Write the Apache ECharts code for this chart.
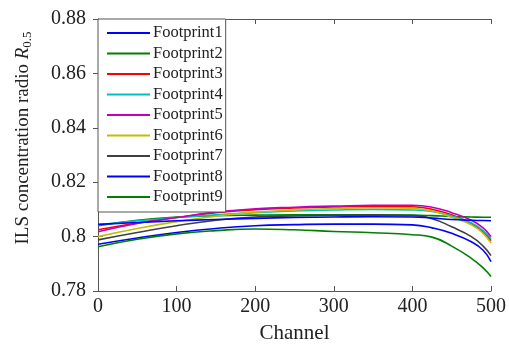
<!DOCTYPE html>
<html><head><meta charset="utf-8">
<script src="https://cdn.jsdelivr.net/npm/echarts@6/dist/echarts.min.js"></script>
<style>html,body{margin:0;padding:0;background:#fff}#c{width:509px;height:354px}</style>
</head><body><div id="c"></div>
<script>
const channels = [0, 50, 100, 150, 200, 250, 300, 350, 400, 425, 450, 475, 490, 500];
const seriesNames = ['Footprint1','Footprint2','Footprint3','Footprint4','Footprint5','Footprint6','Footprint7','Footprint8','Footprint9'];
const footprint1 = [0.7972,0.7995,0.8015,0.8030,0.8040,0.8044,0.8046,0.8046,0.8043,0.8032,0.8012,0.7981,0.7950,0.7908];
const footprint2 = [0.8040,0.8060,0.8072,0.8077,0.8079,0.8080,0.8080,0.8080,0.8079,0.8077,0.8074,0.8072,0.8071,0.8071];
const footprint3 = [0.8025,0.8050,0.8070,0.8088,0.8099,0.8105,0.8109,0.8111,0.8110,0.8100,0.8080,0.8048,0.8018,0.7985];
const footprint4 = [0.8043,0.8058,0.8070,0.8080,0.8088,0.8094,0.8098,0.8100,0.8098,0.8092,0.8076,0.8050,0.8022,0.7992];
const footprint5 = [0.8018,0.8048,0.8070,0.8090,0.8102,0.8108,0.8112,0.8115,0.8115,0.8108,0.8088,0.8060,0.8032,0.8000];
const footprint6 = [0.8000,0.8030,0.8055,0.8075,0.8090,0.8098,0.8103,0.8106,0.8104,0.8094,0.8071,0.8043,0.8012,0.7976];
const footprint7 = [0.7988,0.8015,0.8040,0.8060,0.8072,0.8076,0.8078,0.8079,0.8077,0.8066,0.8036,0.8000,0.7965,0.7930];
const footprint8 = [0.8045,0.8052,0.8058,0.8063,0.8067,0.8070,0.8072,0.8073,0.8072,0.8068,0.8063,0.8060,0.8059,0.8058];
const footprint9 = [0.7963,0.7990,0.8010,0.8022,0.8028,0.8025,0.8019,0.8014,0.8007,0.7998,0.7965,0.7920,0.7885,0.7853];
const allValues = [footprint1,footprint2,footprint3,footprint4,footprint5,footprint6,footprint7,footprint8,footprint9];
const colors = ['#0000ff','#008000','#ff0000','#00bfbf','#bf00bf','#bfbf00','#404040','#0000ff','#008000'];
const xTicks = {min: 0, max: 500, interval: 100};
const yTicks = {min: 0.78, max: 0.88, interval: 0.02};

const font = 'Liberation Serif, Times New Roman, serif';
const axisColor = '#555';
const textColor = '#222';

const series = seriesNames.map((n, i) => ({
  name: n, type: 'line', smooth: true, showSymbol: false, symbol: 'none',
  lineStyle: {color: colors[i], width: 1.6}, itemStyle: {color: colors[i]},
  data: channels.map((c, j) => [c, allValues[i][j]]), z: 2
}));

const chart = echarts.init(document.getElementById('c'));
chart.setOption({
  animation: false,
  backgroundColor: '#fff',
  grid: {left: 98, right: 15, top: 19, bottom: 63, show: false},
  legend: {
    orient: 'vertical', left: 98, top: 19,
    data: seriesNames.map(n => ({name: n, icon: 'rect'})),
    itemWidth: 43, itemHeight: 2, itemGap: 2.5,
    padding: [5, 3, 6, 9],
    backgroundColor: '#fff', borderColor: axisColor, borderWidth: 1,
    textStyle: {fontFamily: font, fontSize: 16.5, color: textColor, lineHeight: 18, padding: [0, 0, 0, -2]},
    z: 10
  },
  xAxis: [{
    type: 'value', min: xTicks.min, max: xTicks.max, interval: xTicks.interval,
    name: 'Channel', nameLocation: 'middle', nameGap: 32,
    nameTextStyle: {fontFamily: font, fontSize: 21, color: textColor},
    axisLine: {show: true, lineStyle: {color: axisColor, width: 1}},
    axisTick: {show: true, inside: true, length: 5, lineStyle: {color: axisColor}},
    axisLabel: {fontFamily: font, fontSize: 20, color: textColor, margin: 6},
    splitLine: {show: false}
  }, {
    type: 'value', position: 'top', min: xTicks.min, max: xTicks.max, interval: xTicks.interval,
    axisLine: {show: true, lineStyle: {color: axisColor, width: 1}},
    axisTick: {show: true, inside: true, length: 5, lineStyle: {color: axisColor}},
    axisLabel: {show: false}, splitLine: {show: false}
  }],
  yAxis: [{
    type: 'value', min: yTicks.min, max: yTicks.max, interval: yTicks.interval,
    name: 'ILS concentration radio {i|R}{s|0.5}', nameLocation: 'middle', nameGap: 64, nameRotate: 90,
    nameTextStyle: {fontFamily: font, fontSize: 19, color: textColor, padding: [0, 0, 0, 34],
      rich: {i: {fontFamily: font, fontSize: 19, fontStyle: 'italic', color: textColor},
             s: {fontFamily: font, fontSize: 13, color: textColor, verticalAlign: 'bottom', padding: [9, 0, 0, 0]}}},
    axisLine: {show: true, lineStyle: {color: axisColor, width: 1}},
    axisTick: {show: true, inside: true, length: 5, lineStyle: {color: axisColor}},
    axisLabel: {fontFamily: font, fontSize: 20, color: textColor, margin: 12,
      formatter: v => String(parseFloat(v.toFixed(2)))},
    splitLine: {show: false}
  }, {
    type: 'value', position: 'right', min: yTicks.min, max: yTicks.max, interval: yTicks.interval,
    axisLine: {show: true, lineStyle: {color: axisColor, width: 1}},
    axisTick: {show: true, inside: true, length: 5, lineStyle: {color: axisColor}},
    axisLabel: {show: false}, splitLine: {show: false}
  }],
  series: series
});
</script></body></html>
